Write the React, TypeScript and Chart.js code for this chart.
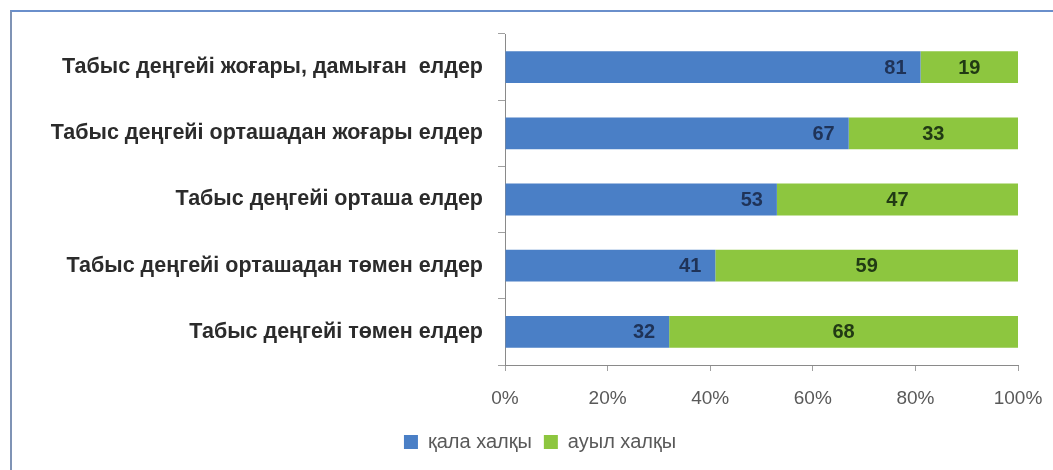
import React, { useEffect, useRef } from "react";
import { Chart, registerables } from "chart.js";

Chart.register(...registerables);

const categories = [
  "Табыс деңгейі жоғары, дамыған  елдер",
  "Табыс деңгейі орташадан жоғары елдер",
  "Табыс деңгейі орташа елдер",
  "Табыс деңгейі орташадан төмен елдер",
  "Табыс деңгейі төмен елдер",
];
const urbanValues = [81, 67, 53, 41, 32];
const ruralValues = [19, 33, 47, 59, 68];
const seriesNames = ["қала халқы", "ауыл халқы"];
const xTicks = [0, 20, 40, 60, 80, 100];

const BLUE = "#4a7fc6";
const GREEN = "#8dc63f";
const FONT = "'Liberation Sans', Arial, sans-serif";

const labelPlugin = {
  id: "segLabels",
  afterDatasetsDraw(chart: any) {
    const ctx = chart.ctx;
    ctx.save();
    ctx.font = `bold 20px ${FONT}`;
    ctx.textBaseline = "middle";
    chart.data.datasets.forEach((ds: any, di: number) => {
      const meta = chart.getDatasetMeta(di);
      meta.data.forEach((bar: any, i: number) => {
        const v = ds.data[i];
        const start = bar.base;
        const end = bar.x;
        if (di === 0) {
          ctx.fillStyle = "#1f3358";
          ctx.textAlign = "right";
          ctx.fillText(String(v), end - 14, bar.y + 1);
        } else {
          ctx.fillStyle = "#213a14";
          ctx.textAlign = "center";
          ctx.fillText(String(v), (start + end) / 2, bar.y + 1);
        }
      });
    });
    ctx.restore();
  },
};

const legendShiftPlugin = {
  id: "legendShift",
  afterLayout(chart: any) {
    const lg = chart.legend;
    if (lg) {
      lg.left += 31;
      lg.right += 31;
    }
  },
};

export default function App() {
  const ref = useRef<HTMLCanvasElement | null>(null);
  useEffect(() => {
    if (!ref.current) return;
    const chart = new Chart(ref.current, {
      type: "bar",
      data: {
        labels: categories,
        datasets: [
          {
            label: seriesNames[0],
            data: urbanValues,
            backgroundColor: BLUE,
            barPercentage: 0.48,
            categoryPercentage: 1,
          },
          {
            label: seriesNames[1],
            data: ruralValues,
            backgroundColor: GREEN,
            barPercentage: 0.48,
            categoryPercentage: 1,
          },
        ],
      },
      options: {
        indexAxis: "y",
        animation: false,
        responsive: false,
        maintainAspectRatio: false,
        layout: { padding: { top: 34, right: 35, bottom: 8, left: 0 } },
        scales: {
          x: {
            stacked: true,
            min: 0,
            max: 100,
            afterBuildTicks: (scale: any) => {
              scale.ticks = xTicks.map((v) => ({ value: v }));
            },
            afterFit: (scale: any) => {
              scale.height = 55;
              scale.paddingRight = 0;
              scale.paddingLeft = 0;
            },
            ticks: {
              callback: (v: any) => v + "%",
              color: "#595959",
              font: { size: 19, family: FONT },
              padding: 16,
              maxRotation: 0,
            },
            grid: {
              drawOnChartArea: false,
              drawTicks: true,
              tickLength: 6,
              color: "#a0a0a0",
            },
            border: { display: true, color: "#8a8a8a", width: 1 },
          },
          y: {
            stacked: true,
            afterFit: (scale: any) => {
              scale.width = 505;
            },
            ticks: {
              color: "#2b2b2b",
              font: { size: 21.5, weight: "bold", family: FONT },
              padding: 15,
            },
            grid: {
              drawOnChartArea: false,
              drawTicks: true,
              tickLength: 7,
              color: "#a0a0a0",
              offset: true,
            },
            border: { display: true, color: "#8a8a8a", width: 1 },
          },
        },
        plugins: {
          legend: {
            position: "bottom",
            labels: {
              boxWidth: 14,
              boxHeight: 14,
              color: "#595959",
              font: { size: 20, family: FONT },
              padding: 12,
            },
          },
          tooltip: { enabled: false },
        },
      },
      plugins: [labelPlugin, legendShiftPlugin],
    });
    return () => chart.destroy();
  }, []);

  return (
    <div style={{ position: "fixed", left: 0, top: 0, width: 1053, height: 470, background: "#fff" }}>
      <div
        style={{
          position: "absolute",
          left: 10,
          top: 10,
          width: 1043,
          height: 460,
          borderTop: "2px solid #6a8fcb",
          borderLeft: "2px solid #7f93b5",
          boxSizing: "border-box",
        }}
      />
      <canvas ref={ref} width={1053} height={470} style={{ position: "absolute", left: 0, top: 0 }} />
    </div>
  );
}
